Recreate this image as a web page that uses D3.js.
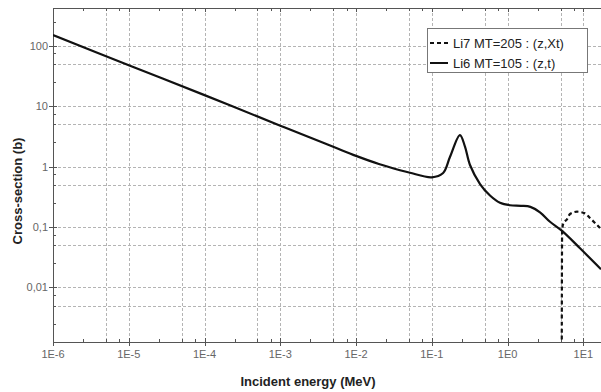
<!DOCTYPE html>
<html>
<head>
<meta charset="utf-8">
<script src="https://cdn.jsdelivr.net/npm/d3@7"></script>
<style>
    body { margin: 0; background: #fff; }
    text { font-family: "Liberation Sans", Arial, sans-serif; }
</style>
</head>
<body>
<svg id="vis_svg"></svg>
<script>
// Data (energy in MeV, cross-section in barns)
let li6Energy = [1e-6, 1e-5, 1e-4, 1e-3, 5e-3, 1e-2, 0.02, 0.038, 0.0515, 0.0998, 0.141, 0.174, 0.235,
    0.274, 0.319, 0.433, 0.586, 0.794, 1.077, 1.5, 2.0, 2.68, 3.63, 5.19, 9.04, 17.1];
let li6Sigma = [150, 47.5, 15.2, 4.75, 2.12, 1.5, 1.1, 0.87, 0.79, 0.664, 0.782, 1.45, 3.32,
    2.13, 1.06, 0.514, 0.332, 0.252, 0.229, 0.224, 0.215, 0.175, 0.122, 0.087, 0.0444, 0.02];

let li7Energy = [5.19, 5.2, 5.25, 5.5, 6.04, 6.67, 8.26, 10.5, 12.2, 16.6];
let li7Sigma = [0.0008, 0.004, 0.09, 0.118, 0.132, 0.164, 0.179, 0.168, 0.141, 0.096];

let xTickValues = [1e-6, 1e-5, 1e-4, 1e-3, 1e-2, 1e-1, 1e0, 1e1];
let xTickLabels = ['1E-6', '1E-5', '1E-4', '1E-3', '1E-2', '1E-1', '1E0', '1E1'];
let yTickValues = [0.01, 0.1, 1, 10, 100];
let yTickLabels = ['0,01', '0,1', '1', '10', '100'];

let legendLabels = ['Li7 MT=205 : (z,Xt)', 'Li6 MT=105 : (z,t)'];

// Global Variables
let scales = {};
let config = {
    'svg': {},
    'plot': {}
};

/**
 * Set up the visualization
 */
function visSetup() {
    config.svg.width = 601;
    config.svg.height = 392;

    config.plot.left = 53;
    config.plot.right = 601;
    config.plot.top = 8;
    config.plot.bottom = 342;

    svg = d3.select('#vis_svg')
        .attr('width', config.svg.width)
        .attr('height', config.svg.height);

    scales.x = d3.scaleLog()
        .domain([1e-6, 17.1])
        .range([config.plot.left, config.plot.right]);
    scales.y = d3.scaleLog()
        .domain([0.00125, 420])
        .range([config.plot.bottom, config.plot.top]);
}

/**
 * Draw the visualization
 */
function visDraw() {
    let p = config.plot;
    let gridColor = '#b4b4b4';
    let axisColor = '#555';

    svg.append('clipPath').attr('id', 'plotClip')
        .append('rect')
        .attr('x', p.left).attr('y', p.top)
        .attr('width', p.right - p.left).attr('height', p.bottom - p.top);

    // grid at 1 and 5 of each decade
    let xGrid = [];
    xTickValues.forEach(d => { xGrid.push(d); xGrid.push(d * 5); });
    xGrid = xGrid.filter(d => d > 1e-6 && d < 17);
    let yGrid = [];
    [0.001].concat(yTickValues).forEach(d => { yGrid.push(d); yGrid.push(d * 5); });
    yGrid = yGrid.filter(d => d > 0.00125 && d < 420);

    let grid = svg.append('g').attr('id', 'grid')
        .attr('stroke', gridColor).attr('stroke-width', 1).attr('stroke-dasharray', '3,2');
    grid.selectAll('.vx').data(xGrid).enter().append('line')
        .attr('x1', d => Math.round(scales.x(d)) + 0.5).attr('x2', d => Math.round(scales.x(d)) + 0.5)
        .attr('y1', p.top).attr('y2', p.bottom);
    grid.selectAll('.hy').data(yGrid).enter().append('line')
        .attr('y1', d => Math.round(scales.y(d)) + 0.5).attr('y2', d => Math.round(scales.y(d)) + 0.5)
        .attr('x1', p.left).attr('x2', p.right);

    // axes
    let axes = svg.append('g').attr('id', 'axes').attr('stroke', axisColor).attr('stroke-width', 1);
    axes.append('line').attr('x1', p.left).attr('x2', p.right).attr('y1', p.bottom + 0.5).attr('y2', p.bottom + 0.5);
    axes.append('line').attr('x1', p.left).attr('x2', p.right).attr('y1', p.top + 0.5).attr('y2', p.top + 0.5);
    axes.append('line').attr('x1', p.left + 0.5).attr('x2', p.left + 0.5).attr('y1', p.top).attr('y2', p.bottom);

    // minor ticks at 2.5, 5, 7.5 of each decade
    let xMinor = [];
    xTickValues.forEach(d => { [2.5, 5, 7.5].forEach(m => xMinor.push(d * m)); });
    xMinor = xMinor.filter(d => d < 17);
    let yMinor = [];
    [0.001].concat(yTickValues).forEach(d => { [2.5, 5, 7.5].forEach(m => yMinor.push(d * m)); });
    yMinor = yMinor.filter(d => d > 0.00125 && d < 420);

    xTickValues.forEach(d => {
        let x = Math.round(scales.x(d)) + 0.5;
        axes.append('line').attr('x1', x).attr('x2', x).attr('y1', p.bottom - 4).attr('y2', p.bottom + 4);
        axes.append('line').attr('x1', x).attr('x2', x).attr('y1', p.top).attr('y2', p.top + 4);
    });
    xMinor.forEach(d => {
        let x = Math.round(scales.x(d)) + 0.5;
        axes.append('line').attr('x1', x).attr('x2', x).attr('y1', p.bottom - 3).attr('y2', p.bottom);
        axes.append('line').attr('x1', x).attr('x2', x).attr('y1', p.top).attr('y2', p.top + 3);
    });
    yTickValues.forEach(d => {
        let y = Math.round(scales.y(d)) + 0.5;
        axes.append('line').attr('y1', y).attr('y2', y).attr('x1', p.left - 4).attr('x2', p.left + 4);
    });
    yMinor.forEach(d => {
        let y = Math.round(scales.y(d)) + 0.5;
        axes.append('line').attr('y1', y).attr('y2', y).attr('x1', p.left).attr('x2', p.left + 3);
    });

    // tick labels
    let labels = svg.append('g').attr('font-size', 11).attr('fill', '#666');
    xTickValues.forEach((d, i) => {
        labels.append('text')
            .attr('x', scales.x(d)).attr('y', 358)
            .attr('text-anchor', 'middle')
            .text(xTickLabels[i]);
    });
    yTickValues.forEach((d, i) => {
        labels.append('text')
            .attr('x', 48).attr('y', scales.y(d) + 4)
            .attr('text-anchor', 'end')
            .text(yTickLabels[i]);
    });

    // axis titles
    svg.append('text')
        .attr('x', 308).attr('y', 386)
        .attr('text-anchor', 'middle')
        .attr('font-size', 13).attr('font-weight', 'bold').attr('fill', '#222')
        .text('Incident energy (MeV)');
    svg.append('text')
        .attr('transform', translate(22, 191) + ' rotate(-90)')
        .attr('text-anchor', 'middle')
        .attr('font-size', 13).attr('font-weight', 'bold').attr('fill', '#222')
        .text('Cross-section (b)');

    // curves
    let line = d3.line()
        .x(d => scales.x(d[0]))
        .y(d => scales.y(d[1]))
        .curve(d3.curveCatmullRom.alpha(0.5));

    let curves = svg.append('g').attr('clip-path', 'url(#plotClip)').attr('fill', 'none');
    curves.append('path')
        .datum(li6Energy.map((e, i) => [e, li6Sigma[i]]))
        .attr('d', line)
        .attr('stroke', '#111').attr('stroke-width', 2.2);
    curves.append('path')
        .datum(li7Energy.map((e, i) => [e, li7Sigma[i]]))
        .attr('d', line.curve(d3.curveMonotoneX))
        .attr('stroke', '#111').attr('stroke-width', 2.2).attr('stroke-dasharray', '4,3');

    // legend
    let legend = svg.append('g').attr('id', 'legend');
    legend.append('rect')
        .attr('x', 427.5).attr('y', 28.5).attr('width', 160).attr('height', 44)
        .attr('fill', '#fff').attr('stroke', '#777');
    let dashes = ['4,3', null];
    legendLabels.forEach((t, i) => {
        let y = 43 + i * 20;
        legend.append('line')
            .attr('x1', 430).attr('x2', 448).attr('y1', y).attr('y2', y)
            .attr('stroke', '#111').attr('stroke-width', 2)
            .attr('stroke-dasharray', dashes[i]);
        legend.append('text')
            .attr('x', 453).attr('y', y + 5)
            .attr('font-size', 13).attr('fill', '#222')
            .text(t);
    });
}

// Helper functions
function translate(x, y) {
    return 'translate(' + x + ',' + y + ')';
}

visSetup();
visDraw();
</script>
</body>
</html>
